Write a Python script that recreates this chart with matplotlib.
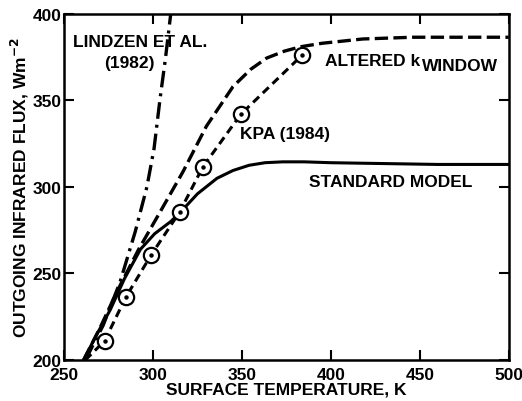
import matplotlib.pyplot as plt
import numpy as np

plt.rcParams['font.family'] = ['Liberation Sans', 'DejaVu Sans']
plt.rcParams['font.weight'] = 'bold'

# surface temperature (K) vs outgoing IR flux (W m^-2)
std_T = [261, 268, 276, 284, 293, 301, 310, 316, 325, 336, 345, 354, 363, 373, 385, 400, 430, 460, 500]
std_F = [200, 214, 229, 247, 264, 273, 280, 286, 296, 305, 309.5, 312.5, 314, 314.5, 314.5, 314, 313.5, 313, 313]

alt_T = [261, 270, 280, 292, 304, 317, 330, 345, 355, 364, 374, 383, 395, 418, 446, 470, 500]
alt_F = [200, 218, 240, 264, 285.5, 309, 335, 358, 368, 374.5, 378.5, 381, 383, 385.5, 386.5, 386.5, 386.5]

kpa_T = [272.8, 284.8, 299, 315, 328, 349.4, 383.7]
kpa_F = [211, 236.4, 260.7, 285.5, 311.5, 342, 376]
kpa_line_T = [262] + kpa_T
kpa_line_F = [200] + kpa_F

lind_T = [262, 272, 281.5, 290, 296.6, 300.6, 304, 307, 310]
lind_F = [200, 220, 245, 274, 300, 322, 351, 374, 400]

fig = plt.figure(figsize=(5.22, 4.02), dpi=100)
ax = fig.add_axes([0.1226, 0.102, 0.852, 0.861])

ax.plot(std_T, std_F, '-', color='black', lw=2.2)
ax.plot(alt_T, alt_F, color='black', lw=2.4, dashes=(4, 1.6))
ax.plot(kpa_line_T, kpa_line_F, color='black', lw=2.2, dashes=(2.7, 1.7))
ax.plot(lind_T, lind_F, color='black', lw=2.4, dashes=(5, 1.8, 0.9, 1.8))
ax.plot(kpa_T, kpa_F, 'o', ms=11, mfc='white', mec='black', mew=1.6)
ax.plot(kpa_T, kpa_F, 'o', ms=2.2, color='black')

ax.set_xlim(250, 500)
ax.set_ylim(200, 400)
ax.set_xticks([250, 300, 350, 400, 450, 500])
ax.set_yticks([200, 250, 300, 350, 400])
ax.tick_params(direction='in', length=7, width=1.5, top=True, right=True,
               labelsize=12.5, pad=2)
ax.tick_params(axis='x', pad=5)
for s in ax.spines.values():
    s.set_linewidth(1.8)

ax.set_xlabel('SURFACE TEMPERATURE, K', fontsize=12.5, fontweight='bold', labelpad=0)
ax.set_ylabel('OUTGOING INFRARED FLUX, Wm$^{\\mathbf{-2}}$', fontsize=12.5,
              fontweight='bold', labelpad=1)

fs = 12.5
ax.text(292.7, 383.8, 'LINDZEN ET AL.', fontsize=fs, fontweight='bold', ha='center', va='center')
ax.text(286.5, 372, '(1982)', fontsize=fs, fontweight='bold', ha='center', va='center')
ax.text(396.6, 372.8, 'ALTERED k', fontsize=fs, fontweight='bold', ha='left', va='center')
ax.text(451, 370, 'WINDOW', fontsize=fs, fontweight='bold', ha='left', va='center')
ax.text(348.9, 330.6, 'KPA (1984)', fontsize=fs, fontweight='bold', ha='left', va='center')
ax.text(387.6, 302.9, 'STANDARD MODEL', fontsize=fs, fontweight='bold', ha='left', va='center')

fig.savefig('out.png', dpi=100)
